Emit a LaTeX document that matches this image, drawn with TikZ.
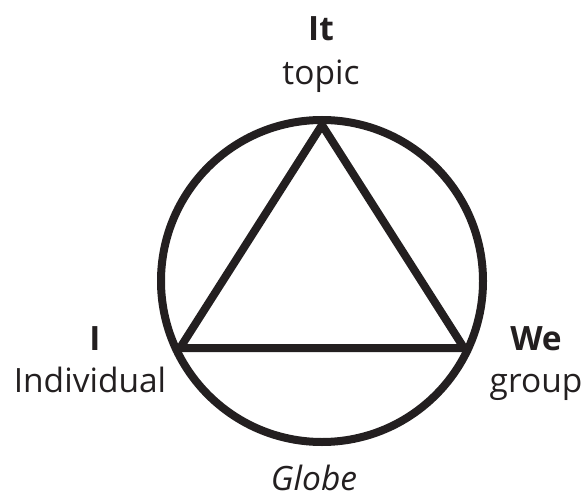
\documentclass[tikz,border=0pt]{standalone}
\usepackage{fontspec}
\setmainfont{Open Sans}
\usetikzlibrary{calc}
\definecolor{ink}{RGB}{35,31,32}
\begin{document}
\begin{tikzpicture}[x=1pt, y=-1pt,
		lbl/.style={anchor=base, inner sep=0pt, text=ink, font=\fontsize{33.5}{40}\selectfont},
		hd/.style={lbl, font=\fontsize{33.5}{40}\selectfont\bfseries}]
			\useasboundingbox (0,0) rectangle (583,500);
			\coordinate (c) at (322,281);
			\coordinate (apex) at ($(c)+(0,-156)$);
			\coordinate (lv) at (180,348);
			\coordinate (rv) at (464,348);
			\draw[ink, line width=8pt] (c) circle (161);
			\draw[ink, line width=8pt, line join=miter] (apex) -- (lv) -- (rv) -- cycle;
			\node[hd] (it) at (321,41) {It};
			\node[lbl] (topic) at (321,85) {topic};
			\node[hd] (i) at (95,350) {I};
			\node[lbl] (indiv) at (90,392) {Individual};
			\node[hd] (we) at (536,350) {We};
			\node[lbl] (group) at (536,392) {group};
			\node[lbl, font=\fontsize{33.5}{40}\selectfont\itshape] (globe) at (314,490) {Globe};
		\end{tikzpicture}
\end{document}
